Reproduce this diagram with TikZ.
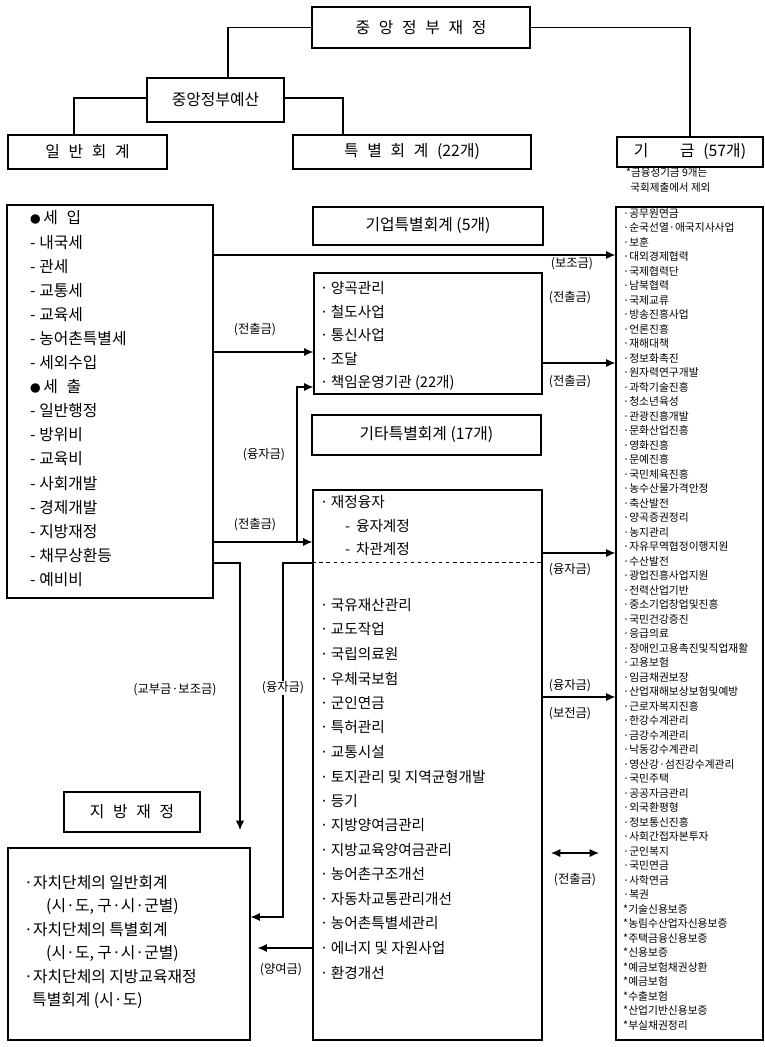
\documentclass[tikz,border=0pt]{standalone}
\usepackage{fontspec}
\setmainfont{Noto Sans CJK KR}
\usetikzlibrary{arrows.meta}
\newcommand\pu{0.03cm}
\newcommand\gap{\hspace{0.55em}}
\newcommand\dotb{{\fontsize{9}{10}\selectfont ●}\,}

\begin{document}
\begin{tikzpicture}[x=0.03cm, y=-0.03cm, >={Latex[length=8pt,width=7pt]}]
    \tikzset{
        hdr/.style={draw, line width=1pt, inner sep=0pt, font=\fontsize{13.5}{16}\selectfont},
        frame/.style={draw, line width=1pt, inner sep=0pt},
        item/.style={anchor=west, inner sep=0pt, font=\fontsize{13.5}{16}\selectfont},
        bitem/.style={anchor=west, inner sep=0pt, font=\fontsize{12.5}{15}\selectfont},
        fitem/.style={anchor=west, inner sep=0pt, font=\fontsize{9.2}{11}\selectfont},
        tag/.style={inner sep=1pt, font=\fontsize{10.5}{12}\selectfont},
        flow/.style={line width=1pt}
    }
    \useasboundingbox (0,0) rectangle (764,1047);

    % 상단 구조
    \node[hdr, minimum width=218*\pu, minimum height=41*\pu] (top) at (421,27.5) {중\gap 앙\gap 정\gap 부\gap 재\gap 정};
    \node[hdr, minimum width=137*\pu, minimum height=44*\pu] (budget) at (215.5,100) {중앙정부예산};
    \node[hdr, minimum width=159*\pu, minimum height=34*\pu] (gen) at (87.5,152) {일\gap 반\gap 회\gap 계};
    \node[hdr, minimum width=238*\pu, minimum height=34*\pu] (spec) at (412,152) {특\gap 별\gap 회\gap 계\gap (22개)};
    \node[hdr, minimum width=146*\pu, minimum height=30*\pu] (fundhdr) at (690,152) {기\hspace{2em}금\gap (57개)};
    \node[anchor=north west, inner sep=0pt, align=left, font=\fontsize{9}{12}\selectfont] (note) at (626,168) {*금융성기금 9개는\\\hspace{0.4em}국회제출에서 제외};

    \draw[flow] (top.west) -| (228,0 |- budget.north);
    \draw[flow] (top.east) -| (fundhdr.north);
    \draw[flow] (budget.west |- 0,98) -| (74,0 |- gen.north);
    \draw[flow] (budget.east |- 0,98) -| (343,0 |- spec.north);

    % 일반회계 (세입, 세출)
    \node[frame, minimum width=206*\pu, minimum height=393*\pu] (rev) at (110,401.5) {};
    \foreach \t [count=\i] in {\dotb 세\gap 입, - 내국세, - 관세, - 교통세, - 교육세, - 농어촌특별세, - 세외수입,
        \dotb 세\gap 출, - 일반행정, - 방위비, - 교육비, - 사회개발, - 경제개발, - 지방재정, - 채무상환등, - 예비비} {
        \node[item] (rev-\i) at (30,{218+24.1*(\i-1)}) {\t};
    }

    % 특별회계
    \node[hdr, minimum width=230*\pu, minimum height=38*\pu] (enthdr) at (428,226) {기업특별회계 (5개)};
    \node[frame, minimum width=228*\pu, minimum height=121*\pu] (ent) at (428,333.5) {};
    \foreach \t [count=\i] in {양곡관리, 철도사업, 통신사업, 조달, 책임운영기관 (22개)} {
        \node[bitem] (ent-\i) at (320,{288+23.6*(\i-1)}) {·\,\t};
    }
    \node[hdr, minimum width=229*\pu, minimum height=40*\pu] (othhdr) at (426.5,435) {기타특별회계 (17개)};
    \node[frame, minimum width=229*\pu, minimum height=550*\pu] (big) at (427.5,765) {};
    \draw[dashed, line width=0.8pt] (big.west |- 0,562) -- (big.east |- 0,562);
    \node[bitem] (loan) at (320,502) {·\,재정융자};
    \node[bitem] (loan-1) at (345,526) {-\, 융자계정};
    \node[bitem] (loan-2) at (345,549) {-\, 차관계정};
    \foreach \t [count=\i] in {국유재산관리, 교도작업, 국립의료원, 우체국보험, 군인연금, 특허관리, 교통시설,
        토지관리 및 지역균형개발, 등기, 지방양여금관리, 지방교육양여금관리, 농어촌구조개선,
        자동차교통관리개선, 농어촌특별세관리, 에너지 및 자원사업, 환경개선} {
        \node[bitem] (oth-\i) at (320,{605+24.5*(\i-1)}) {·\,\t};
    }

    % 기금
    \node[frame, minimum width=147*\pu, minimum height=833*\pu] (fund) at (689.5,623.5) {};
    \foreach \t [count=\i] in {·공무원연금, ·순국선열·애국지사사업, ·보훈, ·대외경제협력, ·국제협력단,
        ·남북협력, ·국제교류, ·방송진흥사업, ·언론진흥, ·재해대책, ·정보화촉진, ·원자력연구개발,
        ·과학기술진흥, ·청소년육성, ·관광진흥개발, ·문화산업진흥, ·영화진흥, ·문예진흥, ·국민체육진흥,
        ·농수산물가격안정, ·축산발전, ·양곡증권정리, ·농지관리, ·자유무역협정이행지원, ·수산발전,
        ·광업진흥사업지원, ·전력산업기반, ·중소기업창업및진흥, ·국민건강증진, ·응급의료,
        ·장애인고용촉진및직업재활, ·고용보험, ·임금채권보장, ·산업재해보상보험및예방, ·근로자복지진흥,
        ·한강수계관리, ·금강수계관리, ·낙동강수계관리, ·영산강·섬진강수계관리, ·국민주택, ·공공자금관리,
        ·외국환평형, ·정보통신진흥, ·사회간접자본투자, ·군인복지, ·국민연금, ·사학연금, ·복권,
        *기술신용보증, *농림수산업자신용보증, *주택금융신용보증, *신용보증, *예금보험채권상환,
        *예금보험, *수출보험, *산업기반신용보증, *부실채권정리} {
        \node[fitem] (fund-\i) at (623,{213+14.5*(\i-1)}) {\t};
    }

    % 지방재정
    \node[hdr, minimum width=136*\pu, minimum height=40*\pu] (lochdr) at (132,812) {지\gap 방\gap 재\gap 정};
    \node[frame, minimum width=242*\pu, minimum height=192*\pu] (loc) at (129,944) {};
    \node[item] (loc-1) at (24,883) {·자치단체의 일반회계};
    \node[item] (loc-2) at (46,906.4) {(시·도, 구·시·군별)};
    \node[item] (loc-3) at (24,929.8) {·자치단체의 특별회계};
    \node[item] (loc-4) at (46,953.2) {(시·도, 구·시·군별)};
    \node[item] (loc-5) at (24,976.6) {·자치단체의 지방교육재정};
    \node[item] (loc-6) at (32,1000) {특별회계 (시·도)};

    % 자금 흐름
    \draw[flow, ->] (rev.east |- 0,255) -- (fund.west |- 0,255);
    \node[tag] (t-sub) at (572,264) {(보조금)};
    \draw[flow, ->] (rev.east |- 0,352) -- (ent.west |- 0,352);
    \node[tag] (t-tr1) at (255,330) {(전출금)};
    \draw[flow, ->] (ent.east |- 0,363) -- (fund.west |- 0,363);
    \node[tag] (t-tr2) at (570,298) {(전출금)};
    \node[tag] (t-tr3) at (570,382) {(전출금)};
    \draw[flow, ->] (rev.east |- 0,542) -- (big.west |- 0,542);
    \node[tag] (t-tr4) at (255,525) {(전출금)};
    \coordinate (j1) at (297,542);
    \draw[flow, ->] (j1) |- (ent.west |- 0,387);
    \node[tag] (t-loan1) at (264,455) {(융자금)};

    \draw[flow, ->] (big.east |- 0,553) -- (fund.west |- 0,553);
    \node[tag] (t-loan2) at (570,570) {(융자금)};
    \draw[flow, ->] (big.east |- 0,697) -- (fund.west |- 0,697);
    \node[tag] (t-loan3) at (570,686) {(융자금)};
    \node[tag] (t-comp) at (570,714) {(보전금)};
    \coordinate (d1) at (551,853);
    \coordinate (d2) at (599,853);
    \draw[flow, <->] (d1) -- (d2);
    \node[tag] (t-tr5) at (575,880) {(전출금)};

    \coordinate (g1) at (240,830);
    \draw[flow, ->] (rev.east |- 0,563) -| (g1);
    \node[tag] (t-grant) at (175,690) {(교부금·보조금)};
    \draw[flow, ->] (big.west |- 0,563) -- (283,563) |- (loc.east |- 0,917);
    \node[tag, fill=white] (t-loan4) at (283,688) {(융자금)};
    \draw[flow, ->, shorten >=6pt] (big.west |- 0,948) -- (loc.east |- 0,948);
    \node[tag] (t-share) at (281,970) {(양여금)};
\end{tikzpicture}
\end{document}
